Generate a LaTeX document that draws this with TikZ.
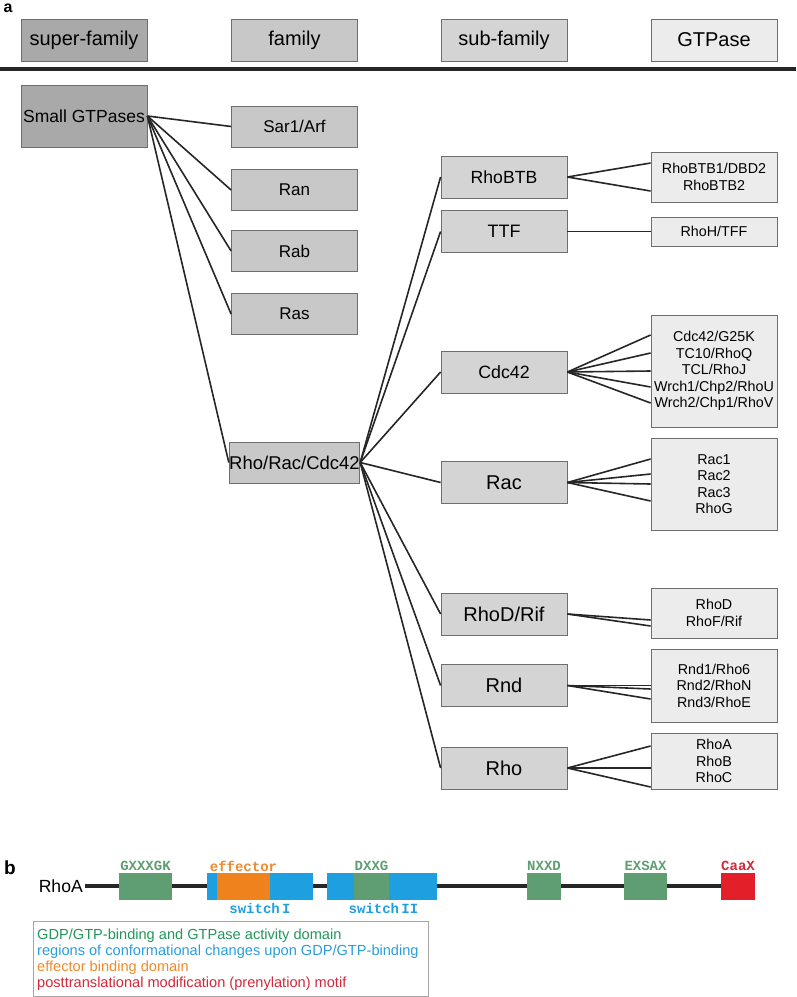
\documentclass[tikz,border=0pt]{standalone}
\usepackage{fontspec}
\setmainfont{Liberation Sans}
\newfontfamily\motiffont{Liberation Mono}
\definecolor{boxline}{HTML}{6E6E6E}
\definecolor{superfill}{HTML}{A9A9A9}
\definecolor{famfill}{HTML}{C8C8C8}
\definecolor{subfill}{HTML}{D4D4D4}
\definecolor{gtpfill}{HTML}{ECECEC}
\definecolor{motifgreen}{HTML}{5F9E72}
\definecolor{switchblue}{HTML}{1EA0E0}
\definecolor{efforange}{HTML}{F0821E}
\definecolor{caaxred}{HTML}{E3202A}
\definecolor{txtgreen}{HTML}{23965A}
\definecolor{txtblue}{HTML}{2A9ED8}
\definecolor{txtorange}{HTML}{EF8A2C}
\definecolor{txtred}{HTML}{D2283A}
\begin{document}
\begin{tikzpicture}[x=1pt,y=-1pt,
  box/.style={draw=boxline,line width=0.8pt,inner sep=0pt,
    minimum width=126pt,minimum height=42pt,align=center},
  head/.style={box,font=\fontsize{20}{24}\selectfont},
  fam/.style={box,fill=famfill,minimum height=41pt,font=\fontsize{17}{20}\selectfont},
  sub/.style={box,fill=subfill,font=\fontsize{18}{21}\selectfont},
  gtp/.style={box,fill=gtpfill,font=\fontsize{14.3}{16.5}\selectfont},
  link/.style={line width=1.6pt,black!85},
  motif/.style={font=\motiffont\bfseries\fontsize{14}{16}\selectfont}]
\useasboundingbox (0,0) rectangle (796,997);
% panel a
\node[font=\bfseries\fontsize{16}{19}\selectfont,inner sep=0pt,anchor=base] (pa) at (8,12) {a};
\node[head,fill=superfill] (hsuper) at (84,40) {super-family};
\node[head,fill=famfill] (hfam) at (294.5,40) {family};
\node[head,fill=subfill] (hsub) at (504,40) {sub-family};
\node[head,fill=gtpfill] (hgtp) at (714,40) {GTPase};
\draw[line width=4pt,black!85] (0,69) -- (796,69);

\node[box,fill=superfill,minimum height=62pt,font=\fontsize{17.5}{20}\selectfont] (small) at (84,116) {Small GTPases};

\node[fam] (sar) at (294.5,126.5) {Sar1/Arf};
\node[fam] (ran) at (294.5,190) {Ran};
\node[fam] (rab) at (294.5,251) {Rab};
\node[fam] (ras) at (294.5,314) {Ras};
\node[fam,font=\fontsize{18.5}{21}\selectfont] (rho) at (294.5,462.5) {Rho/Rac/Cdc42};
\foreach \f in {sar,ran,rab,ras,rho}
  \draw[link] (small.east) -- (\f.west);

\node[sub,font=\fontsize{17.6}{21}\selectfont] (rhobtb) at (504,177) {RhoBTB};
\node[sub] (ttf) at (504,231.5) {TTF};
\node[sub,font=\fontsize{17.8}{21}\selectfont] (cdc) at (504,372) {Cdc42};
\node[sub,font=\fontsize{20}{24}\selectfont] (rac) at (504,482.5) {Rac};
\node[sub,font=\fontsize{20}{24}\selectfont] (rhod) at (504,614) {RhoD/Rif};
\node[sub,font=\fontsize{20}{24}\selectfont] (rnd) at (504,685.5) {Rnd};
\node[sub,font=\fontsize{20}{24}\selectfont] (rhos) at (504,768) {Rho};
\foreach \s in {rhobtb,ttf,cdc,rac,rhod,rnd,rhos}
  \draw[link] (rho.east) -- (\s.west);

\node[gtp,minimum height=50pt] (gbtb) at (714,177) {RhoBTB1/DBD2\\RhoBTB2};
\node[gtp,minimum height=29pt] (gttf) at (714,231.5) {RhoH/TFF};
\node[gtp,minimum height=112pt] (gcdc) at (714,371) {Cdc42/G25K\\TC10/RhoQ\\TCL/RhoJ\\Wrch1/Chp2/RhoU\\Wrch2/Chp1/RhoV};
\node[gtp,minimum height=92pt] (grac) at (714,484) {Rac1\\Rac2\\Rac3\\RhoG};
\node[gtp,minimum height=50pt] (grhod) at (714,613) {RhoD\\RhoF/Rif};
\node[gtp,minimum height=73pt] (grnd) at (714,685.5) {Rnd1/Rho6\\Rnd2/RhoN\\Rnd3/RhoE};
\node[gtp,minimum height=56pt] (grho) at (714,761) {RhoA\\RhoB\\RhoC};

\foreach \d in {14,-14}
  \draw[link] (rhobtb.east) -- ([yshift=\d pt]gbtb.west);
\draw[link] (ttf.east) -- (gttf.west);
\foreach \d in {36,18,0,-16,-32}
  \draw[link] (cdc.east) -- ([yshift=\d pt]gcdc.west);
\foreach \d in {25,10,0,-17}
  \draw[link] (rac.east) -- ([yshift=\d pt]grac.west);
\foreach \d in {-7,-13}
  \draw[link] (rhod.east) -- ([yshift=\d pt]grhod.west);
\foreach \d in {0,-3.5,-13.5}
  \draw[link] (rnd.east) -- ([yshift=\d pt]grnd.west);
\foreach \d in {15,-7,-26}
  \draw[link] (rhos.east) -- ([yshift=\d pt]grho.west);

% panel b
\node[font=\bfseries\fontsize{19}{22}\selectfont] (pb) at (10,868) {b};
\node[anchor=east,inner sep=0pt,font=\fontsize{17.6}{20}\selectfont] (rhoa) at (83,886) {RhoA};
\draw[line width=3.5pt,black!85] (85,886) -- (721,886);
\fill[motifgreen] (119,873) rectangle (172,900);
\fill[switchblue] (207,873) rectangle (313,900);
\fill[efforange] (217,873) rectangle (270,900);
\fill[switchblue] (327,873) rectangle (437,900);
\fill[motifgreen] (354,873) rectangle (389,900);
\fill[motifgreen] (527,873) rectangle (561,900);
\fill[motifgreen] (624,873) rectangle (667,900);
\fill[caaxred] (721,873) rectangle (755,900);
\node[motif,text=motifgreen] (m1) at (145.5,866) {GXXXGK};
\node[motif,text=txtorange] (m2) at (243.5,866) {effector};
\node[motif,text=switchblue] (m3) at (260,908) {switch\,I};
\node[motif,text=motifgreen] (m4) at (371.5,866) {DXXG};
\node[motif,text=switchblue] (m5) at (383.5,908) {switch\,II};
\node[motif,text=motifgreen] (m6) at (544,866) {NXXD};
\node[motif,text=motifgreen] (m7) at (645.5,866) {EXSAX};
\node[motif,text=txtred] (m8) at (738,866) {CaaX};

\draw[black!35,line width=0.8pt] (33,921) rectangle (428,996);
\node[anchor=north west,align=left,inner sep=0pt,font=\fontsize{14.6}{16}\selectfont] (legend) at (37,929)
  {\textcolor{txtgreen}{GDP/GTP-binding and GTPase activity domain}\\
   \textcolor{txtblue}{regions of conformational changes upon GDP/GTP-binding}\\
   \textcolor{txtorange}{effector binding domain}\\
   \textcolor{txtred}{posttranslational modification (prenylation) motif}};
\end{tikzpicture}
\end{document}
